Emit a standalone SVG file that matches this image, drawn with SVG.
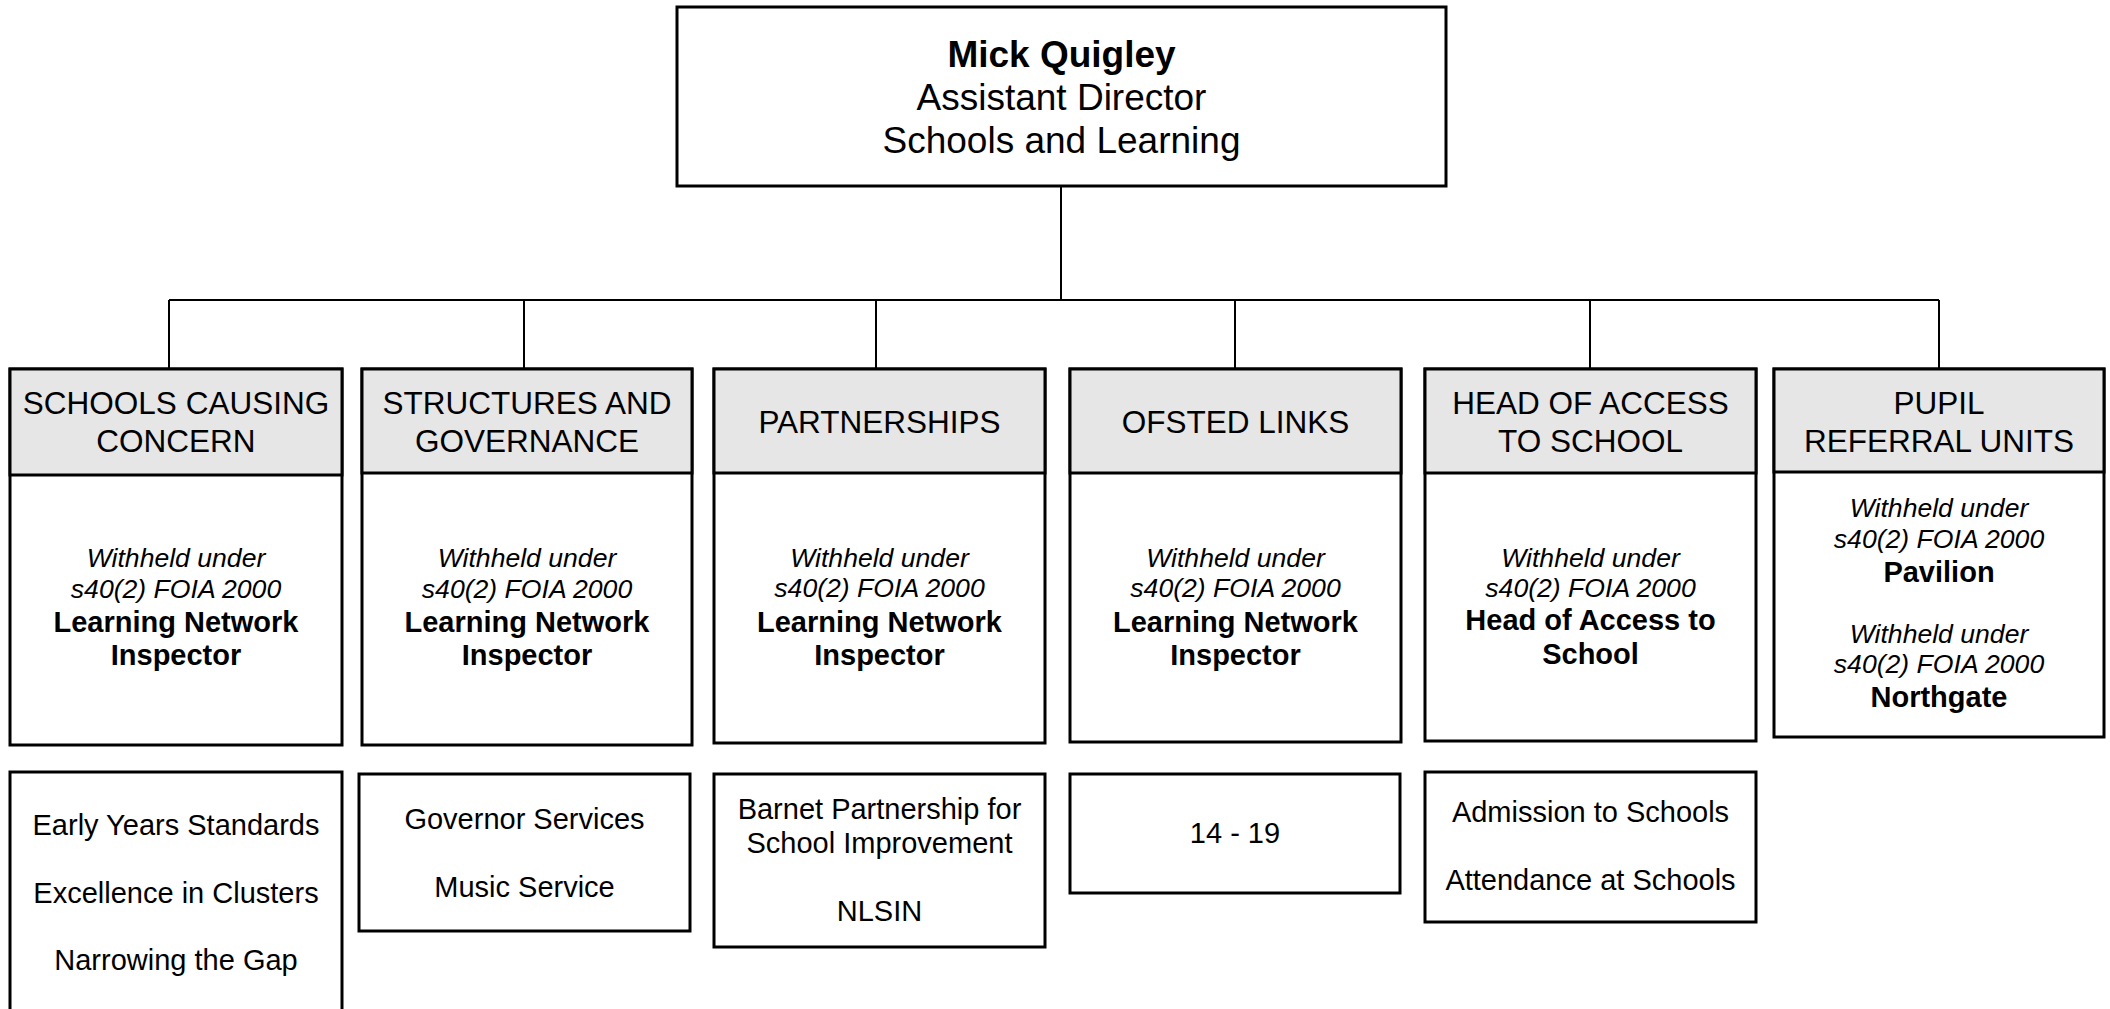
<svg xmlns="http://www.w3.org/2000/svg" width="2110" height="1009" viewBox="0 0 2110 1009">
<style>
text{font-family:"Liberation Sans",Arial,sans-serif;fill:#000;text-anchor:middle}
.box{fill:#fff;stroke:#000;stroke-width:3}
.hdr{fill:#e6e6e6;stroke:#000;stroke-width:3}
.conn{stroke:#000;stroke-width:2;fill:none}
.top{font-size:37px}
.h{font-size:31.5px}
.i{font-size:26.6px;font-style:italic}
.b{font-size:29px;font-weight:bold}
.s{font-size:29px}
</style>
<rect width="2110" height="1009" fill="#fff"/>
<g id="connectors">
<line class="conn" x1="1061" y1="186" x2="1061" y2="300"/>
<line class="conn" x1="169" y1="300" x2="1939" y2="300"/>
<line class="conn" x1="169" y1="300" x2="169" y2="369"/>
<line class="conn" x1="524" y1="300" x2="524" y2="369"/>
<line class="conn" x1="876" y1="300" x2="876" y2="369"/>
<line class="conn" x1="1235" y1="300" x2="1235" y2="369"/>
<line class="conn" x1="1590" y1="300" x2="1590" y2="369"/>
<line class="conn" x1="1939" y1="300" x2="1939" y2="369"/>
</g>
<g id="director">
<rect class="box" x="677" y="7" width="769" height="179"/>
<text class="top" x="1061.5" y="67" font-weight="bold">Mick Quigley</text>
<text class="top" x="1061.5" y="110">Assistant Director</text>
<text class="top" x="1061.5" y="153">Schools and Learning</text>
</g>
<g id="schools-causing-concern">
<rect class="box" x="10" y="369" width="332" height="376"/>
<rect class="hdr" x="10" y="369" width="332" height="106"/>
<text class="h" x="176" y="414">SCHOOLS CAUSING</text>
<text class="h" x="176" y="452">CONCERN</text>
<text class="i" x="176" y="567">Withheld under</text>
<text class="i" x="176" y="598">s40(2) FOIA 2000</text>
<text class="b" x="176" y="632">Learning Network</text>
<text class="b" x="176" y="665">Inspector</text>
</g>
<g id="structures-governance">
<rect class="box" x="362" y="369" width="330" height="376"/>
<rect class="hdr" x="362" y="369" width="330" height="104"/>
<text class="h" x="527" y="414">STRUCTURES AND</text>
<text class="h" x="527" y="452">GOVERNANCE</text>
<text class="i" x="527" y="567">Withheld under</text>
<text class="i" x="527" y="598">s40(2) FOIA 2000</text>
<text class="b" x="527" y="632">Learning Network</text>
<text class="b" x="527" y="665">Inspector</text>
</g>
<g id="partnerships">
<rect class="box" x="714" y="369" width="331" height="374"/>
<rect class="hdr" x="714" y="369" width="331" height="104"/>
<text class="h" x="879.5" y="433">PARTNERSHIPS</text>
<text class="i" x="879.5" y="567">Withheld under</text>
<text class="i" x="879.5" y="597">s40(2) FOIA 2000</text>
<text class="b" x="879.5" y="632">Learning Network</text>
<text class="b" x="879.5" y="665">Inspector</text>
</g>
<g id="ofsted-links">
<rect class="box" x="1070" y="369" width="331" height="373"/>
<rect class="hdr" x="1070" y="369" width="331" height="104"/>
<text class="h" x="1235.5" y="433">OFSTED LINKS</text>
<text class="i" x="1235.5" y="567">Withheld under</text>
<text class="i" x="1235.5" y="597">s40(2) FOIA 2000</text>
<text class="b" x="1235.5" y="632">Learning Network</text>
<text class="b" x="1235.5" y="665">Inspector</text>
</g>
<g id="access-to-school">
<rect class="box" x="1425" y="369" width="331" height="372"/>
<rect class="hdr" x="1425" y="369" width="331" height="104"/>
<text class="h" x="1590.5" y="414">HEAD OF ACCESS</text>
<text class="h" x="1590.5" y="452">TO SCHOOL</text>
<text class="i" x="1590.5" y="567">Withheld under</text>
<text class="i" x="1590.5" y="597">s40(2) FOIA 2000</text>
<text class="b" x="1590.5" y="630">Head of Access to</text>
<text class="b" x="1590.5" y="664">School</text>
</g>
<g id="pupil-referral-units">
<rect class="box" x="1774" y="369" width="330" height="368"/>
<rect class="hdr" x="1774" y="369" width="330" height="103"/>
<text class="h" x="1939" y="414">PUPIL</text>
<text class="h" x="1939" y="452">REFERRAL UNITS</text>
<text class="i" x="1939" y="517">Withheld under</text>
<text class="i" x="1939" y="548">s40(2) FOIA 2000</text>
<text class="b" x="1939" y="582">Pavilion</text>
<text class="i" x="1939" y="643">Withheld under</text>
<text class="i" x="1939" y="673">s40(2) FOIA 2000</text>
<text class="b" x="1939" y="707">Northgate</text>
</g>
<g id="scc-services">
<rect class="box" x="10" y="772" width="332" height="260"/>
<text class="s" x="176" y="835">Early Years Standards</text>
<text class="s" x="176" y="903">Excellence in Clusters</text>
<text class="s" x="176" y="970">Narrowing the Gap</text>
</g>
<g id="sg-services">
<rect class="box" x="359" y="774" width="331" height="157"/>
<text class="s" x="524.5" y="829">Governor Services</text>
<text class="s" x="524.5" y="897">Music Service</text>
</g>
<g id="partnership-services">
<rect class="box" x="714" y="774" width="331" height="173"/>
<text class="s" x="879.5" y="819">Barnet Partnership for</text>
<text class="s" x="879.5" y="853">School Improvement</text>
<text class="s" x="879.5" y="921">NLSIN</text>
</g>
<g id="ofsted-services">
<rect class="box" x="1070" y="774" width="330" height="119"/>
<text class="s" x="1235" y="843">14 - 19</text>
</g>
<g id="access-services">
<rect class="box" x="1425" y="772" width="331" height="150"/>
<text class="s" x="1590.5" y="822">Admission to Schools</text>
<text class="s" x="1590.5" y="890">Attendance at Schools</text>
</g>
</svg>
